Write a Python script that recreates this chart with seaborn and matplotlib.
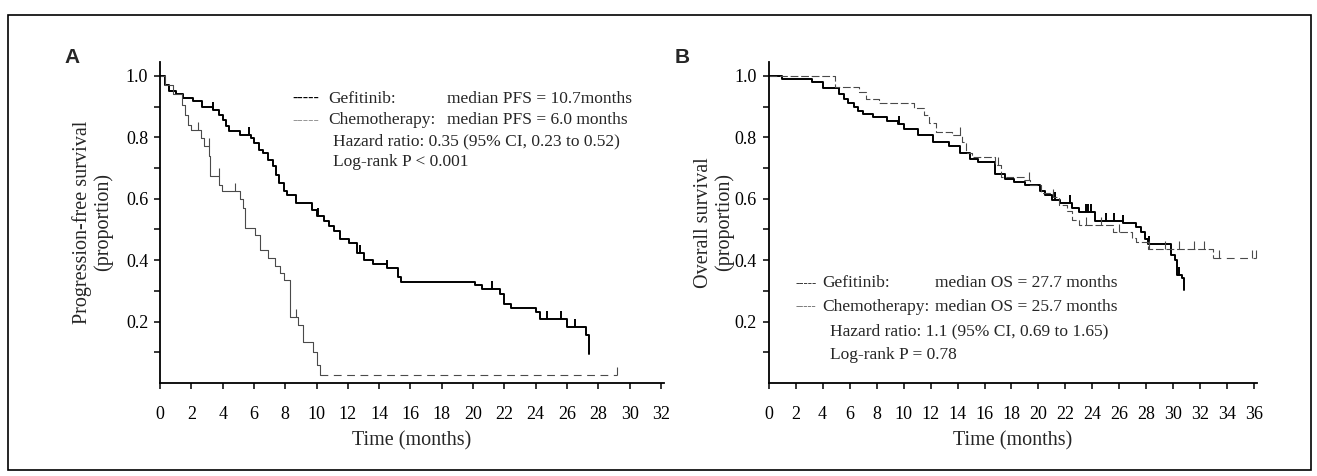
import numpy as np
import pandas as pd
import matplotlib
matplotlib.use("Agg")
import matplotlib.pyplot as plt
import seaborn as sns
from matplotlib.patches import Rectangle

# ---- Panel A: progression-free survival (months, proportion) ----
pfs_gef_t = [0, 0.3, 0.6, 1.0, 1.5, 2.1, 2.7, 3.4, 3.8, 4.0, 4.2, 4.4, 5.1, 5.8, 6.0,
             6.3, 6.6, 6.9, 7.2, 7.4, 7.6, 7.9, 8.1, 8.7, 9.7, 10.0, 10.5, 10.8, 11.1,
             11.5, 12.1, 12.6, 13.0, 13.6, 14.5, 15.2, 15.4, 20.1, 20.6, 21.7, 22.0,
             22.4, 24.0, 24.3, 26.0, 27.2, 27.4]
pfs_gef_s = [1.0, 0.97, 0.95, 0.94, 0.927, 0.917, 0.90, 0.889, 0.873, 0.857, 0.835,
             0.819, 0.808, 0.797, 0.781, 0.759, 0.748, 0.727, 0.705, 0.678, 0.651,
             0.624, 0.613, 0.586, 0.564, 0.543, 0.527, 0.51, 0.494, 0.47, 0.455,
             0.423, 0.40, 0.388, 0.374, 0.346, 0.33, 0.318, 0.305, 0.291, 0.258,
             0.244, 0.231, 0.209, 0.181, 0.155, 0.095]
pfs_gef_censor = [3.4, 5.7, 10.1, 12.8, 14.5, 21.2, 24.7, 25.6, 26.5]

pfs_chemo_t = [0, 0.3, 0.8, 1.4, 1.6, 1.8, 2.0, 2.6, 2.8, 3.15, 3.2, 3.8, 3.95, 5.1,
               5.3, 5.43, 6.07, 6.4, 6.9, 7.35, 7.67, 7.9, 8.3, 8.84, 9.16, 9.8, 10.0,
               10.2]
pfs_chemo_s = [1.0, 0.97, 0.94, 0.906, 0.873, 0.84, 0.824, 0.797, 0.77, 0.738, 0.674,
               0.646, 0.625, 0.60, 0.57, 0.505, 0.482, 0.433, 0.407, 0.38, 0.358, 0.336,
               0.216, 0.189, 0.135, 0.102, 0.059, 0.026]
pfs_chemo_censor = [2.45, 3.1, 3.75, 4.8, 8.7, 29.2]

# ---- Panel B: overall survival ----
os_gef_t = [0, 1.0, 3.2, 4.0, 5.2, 5.6, 5.9, 6.3, 6.6, 7.0, 7.7, 8.8, 9.6, 10.0, 11.1,
            12.2, 13.4, 14.2, 14.9, 15.5, 16.8, 17.5, 18.2, 19.0, 20.1, 20.5, 21.0,
            21.6, 22.5, 23.0, 24.2, 26.3, 27.2, 27.6, 27.9, 28.1, 29.8, 30.1, 30.3,
            30.6, 30.8]
os_gef_s = [1.0, 0.99, 0.98, 0.96, 0.94, 0.925, 0.91, 0.897, 0.885, 0.875, 0.865,
            0.852, 0.842, 0.826, 0.806, 0.785, 0.77, 0.748, 0.73, 0.718, 0.68, 0.665,
            0.655, 0.645, 0.625, 0.612, 0.597, 0.585, 0.569, 0.556, 0.526, 0.52,
            0.509, 0.49, 0.47, 0.453, 0.418, 0.40, 0.352, 0.341, 0.303]
os_gef_censor = [9.7, 21.2, 22.3, 23.5, 23.7, 23.9, 25.0, 25.6, 26.3, 28.2, 30.4]

os_chemo_t = [0, 4.9, 6.7, 7.2, 8.2, 10.8, 11.5, 11.9, 12.4, 13.6, 14.3, 14.6, 15.1,
              16.8, 17.2, 18.9, 19.4, 20.2, 21.1, 21.5, 22.1, 22.5, 23.0, 25.5, 26.9,
              27.2, 28.1, 32.9]
os_chemo_s = [1.0, 0.965, 0.947, 0.925, 0.91, 0.895, 0.872, 0.845, 0.818, 0.808, 0.785,
              0.75, 0.735, 0.71, 0.672, 0.662, 0.645, 0.62, 0.605, 0.58, 0.56, 0.53,
              0.515, 0.49, 0.472, 0.46, 0.435, 0.406]
os_chemo_censor = [14.2, 17.0, 19.3, 21.1, 23.5, 24.6, 26.0, 28.2, 29.4, 30.4, 31.5,
                   32.3, 33.4, 35.8, 36.1]

pfs_text = ["Gefitinib:", "Chemotherapy:", "median PFS = 10.7months",
            "median PFS = 6.0 months", "Hazard ratio: 0.35 (95% CI, 0.23 to 0.52)",
            "Log-rank P < 0.001"]
os_text = ["Gefitinib:", "Chemotherapy:", "median OS = 27.7 months",
           "median OS = 25.7 months", "Hazard ratio: 1.1 (95% CI, 0.69 to 1.65)",
           "Log-rank P = 0.78"]

sns.set_theme(style="ticks")
plt.rcParams["font.family"] = ["Liberation Serif", "DejaVu Serif"]

GEF_COLOR = "black"
CHEMO_COLOR = "#4a4a4a"


def step_value(t, s, x):
    i = np.searchsorted(np.asarray(t), x, side="right") - 1
    return np.asarray(s)[i]


def draw_curve(ax, t, s, censor, color, lw, ls_events, ls_tail):
    df = pd.DataFrame({"time": t, "surv": s})
    sns.lineplot(data=df, x="time", y="surv", drawstyle="steps-post",
                 estimator=None, sort=False, color=color, lw=lw,
                 linestyle=ls_events, ax=ax)
    # flat tail from last event to last censored patient
    end = max(censor)
    if end > t[-1]:
        tail = pd.DataFrame({"time": [t[-1], end], "surv": [s[-1], s[-1]]})
        sns.lineplot(data=tail, x="time", y="surv", estimator=None, sort=False,
                     color=color, lw=lw, linestyle=ls_tail, ax=ax)
    cy = [step_value(t, s, c) for c in censor]
    ax.plot(censor, cy, ls="none", marker=2, ms=6, mew=lw, color=color)


def style_axes(ax, xmax, ylabel):
    ax.set_xlim(0, xmax + 0.2)
    ax.set_ylim(0, 1.045)
    ax.set_xticks(np.arange(0, xmax + 1, 2))
    ax.set_yticks([0.2, 0.4, 0.6, 0.8, 1.0])
    ax.set_yticks([0.1, 0.3, 0.5, 0.7, 0.9], minor=True)
    ax.set_yticklabels(["0.2", "0.4", "0.6", "0.8", "1.0"])
    ax.tick_params(axis="both", which="both", direction="out", length=4.5,
                   width=1.1, color="black", labelsize=13, labelcolor="black")
    ax.tick_params(axis="x", pad=12)
    ax.tick_params(axis="y", pad=4)
    for side in ["top", "right"]:
        ax.spines[side].set_visible(False)
    for side in ["left", "bottom"]:
        ax.spines[side].set_linewidth(1.3)
        ax.spines[side].set_color("black")
    ax.set_xlabel("Time (months)", fontsize=14.5, labelpad=6)
    ax.set_ylabel(ylabel, fontsize=14.5, linespacing=1.1, va="center")
    ax.set_facecolor("white")


def legend_text(ax, lines, x_dash, dash_size, x_lab, x_med, x_stat, ys):
    kw = dict(transform=ax.transAxes, va="center", ha="left", fontsize=12.5)
    dkw = dict(kw, fontsize=dash_size)
    ax.text(x_dash, ys[0], "-----", fontweight="bold", color=GEF_COLOR, **dkw)
    ax.text(x_dash, ys[1], "-----", color="#777777", **dkw)
    ax.text(x_lab, ys[0], lines[0], **kw)
    ax.text(x_lab, ys[1], lines[1], **kw)
    ax.text(x_med, ys[0], lines[2], **kw)
    ax.text(x_med, ys[1], lines[3], **kw)
    ax.text(x_stat, ys[2], lines[4], **kw)
    ax.text(x_stat, ys[3], lines[5], **kw)


fig = plt.figure(figsize=(13.17, 4.76), dpi=100)
fig.patch.set_facecolor("white")

axA = fig.add_axes([0.1215, 0.1954, 0.3827, 0.6744])
axB = fig.add_axes([0.5836, 0.1954, 0.3709, 0.6744])

draw_curve(axA, pfs_gef_t, pfs_gef_s, pfs_gef_censor, GEF_COLOR, 1.4, "-", "-")
draw_curve(axA, pfs_chemo_t, pfs_chemo_s, pfs_chemo_censor, CHEMO_COLOR, 0.8,
           "-", (0, (7, 5)))
draw_curve(axB, os_gef_t, os_gef_s, os_gef_censor, GEF_COLOR, 1.4, "-", "-")
draw_curve(axB, os_chemo_t, os_chemo_s, os_chemo_censor, CHEMO_COLOR, 0.8,
           (0, (7, 2.5)), (0, (7, 5)))

style_axes(axA, 32, "Progression-free survival\n(proportion)")
style_axes(axB, 36, "Overall survival\n(proportion)")
axA.yaxis.set_label_coords(-0.133, 0.5)
axB.yaxis.set_label_coords(-0.111, 0.5)

legend_text(axA, pfs_text, 0.262, 11.5, 0.333, 0.569, 0.343,
            [0.885, 0.819, 0.754, 0.688])
legend_text(axB, os_text, 0.056, 9.0, 0.109, 0.341, 0.126,
            [0.312, 0.237, 0.162, 0.087])

fig.text(0.0547, 0.880, "A", fontsize=15, fontweight="bold",
         family=["Liberation Sans", "DejaVu Sans"], ha="center", va="center")
fig.text(0.518, 0.880, "B", fontsize=15, fontweight="bold",
         family=["Liberation Sans", "DejaVu Sans"], ha="center", va="center")

# outer frame around the whole figure
fig.add_artist(Rectangle((8 / 1317, 6 / 476), 1303 / 1317, 455 / 476,
                         transform=fig.transFigure, fill=False,
                         edgecolor="black", lw=1.2))

fig.savefig("out.png", dpi=100, facecolor="white")
